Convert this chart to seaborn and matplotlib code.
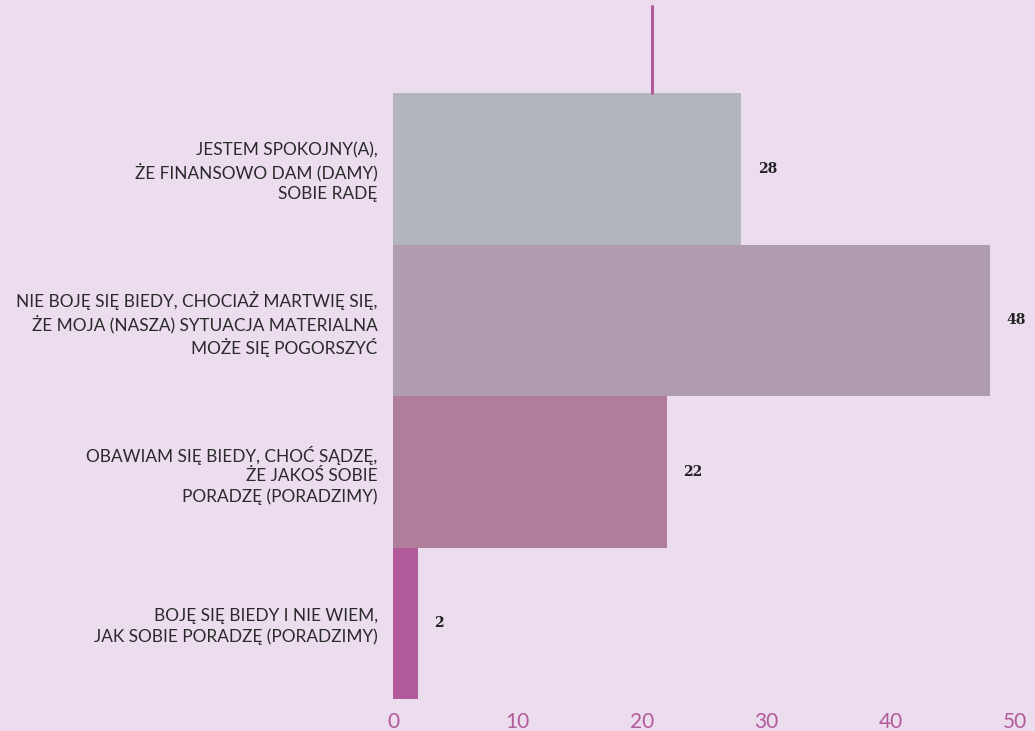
import matplotlib
matplotlib.use("Agg")
import matplotlib.pyplot as plt
import seaborn as sns
import pandas as pd

# dane
categories = [
    "JESTEM SPOKOJNY(A),\nŻE FINANSOWO DAM (DAMY)\nSOBIE RADĘ",
    "NIE BOJĘ SIĘ BIEDY, CHOCIAŻ MARTWIĘ SIĘ,\nŻE MOJA (NASZA) SYTUACJA MATERIALNA\nMOŻE SIĘ POGORSZYĆ",
    "OBAWIAM SIĘ BIEDY, CHOĆ SĄDZĘ,\nŻE JAKOŚ SOBIE\nPORADZĘ (PORADZIMY)",
    "BOJĘ SIĘ BIEDY I NIE WIEM,\nJAK SOBIE PORADZĘ (PORADZIMY)",
]
values = [28, 48, 22, 2]
colors = ["#b3b5bd", "#af9cae", "#b07d9b", "#b35a9b"]
xticks = [0, 10, 20, 30, 40, 50]

bg = "#ebdcee"
accent = "#b35a9b"

df = pd.DataFrame({"kategoria": categories, "procent": values})

sns.set_style("white")
plt.rcParams["font.family"] = ["Lato", "DejaVu Sans"]

fig = plt.figure(figsize=(10.35, 7.31), dpi=100, facecolor=bg)
ax = fig.add_axes([393 / 1035, 1 - 699 / 731, (1015 - 393) / 1035, (699 - 93) / 731])
ax.set_facecolor(bg)

sns.barplot(data=df, x="procent", y="kategoria", hue="kategoria",
            palette=colors, width=1, legend=False, orient="h",
            saturation=1, linewidth=0, edgecolor="none", ax=ax)

ax.set_xlim(0, 50)
ax.set_ylim(3.5, -0.5)
ax.set_xticks(xticks)
ax.set_xticklabels([str(t) for t in xticks])
ax.tick_params(axis="x", length=0, pad=9, labelsize=15, labelcolor=accent)
ax.tick_params(axis="y", length=0, pad=11, labelsize=12.4, labelcolor="#2a2a2a")
for lbl in ax.get_yticklabels():
    lbl.set_horizontalalignment("right")
    lbl.set_linespacing(1.3)
ax.set_xlabel("")
ax.set_ylabel("")
sns.despine(ax=ax, left=True, bottom=True)

for i, v in enumerate(values):
    ax.annotate(str(v), xy=(v, i), xytext=(12, 0), textcoords="offset points",
                va="center", ha="left", fontsize=10, fontweight="bold",
                family="DejaVu Serif", color="#222222")

# pionowa linia u góry
fig.add_artist(plt.Line2D([652 / 1035, 652 / 1035], [1 - 6 / 731, 1 - 93 / 731],
                          color=accent, lw=2.2, transform=fig.transFigure))

fig.savefig("out.png", dpi=100, facecolor=bg)
